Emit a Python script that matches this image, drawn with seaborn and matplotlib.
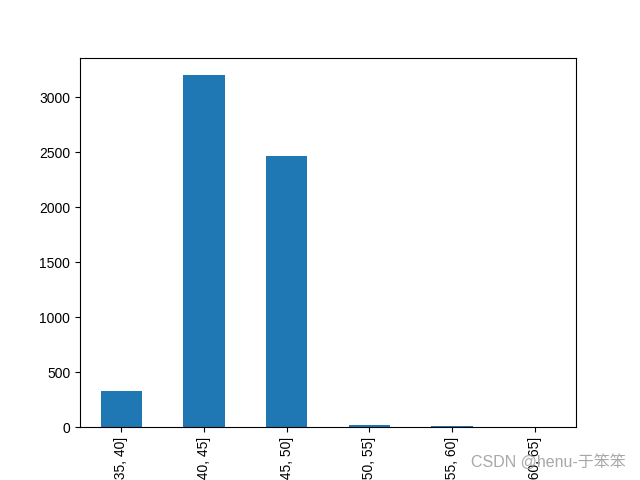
import matplotlib
matplotlib.use('Agg')
import matplotlib.pyplot as plt
import seaborn as sns
import pandas as pd

plt.rcParams['font.family'] = ['Liberation Sans', 'Noto Sans CJK SC', 'DejaVu Sans']
plt.rcParams['axes.unicode_minus'] = False

# age bins and counts
bins = ['(35, 40]', '(40, 45]', '(45, 50]', '(50, 55]', '(55, 60]', '(60, 65]']
counts = [328, 3200, 2462, 20, 10, 2]

df = pd.DataFrame({'bin': bins, 'count': counts})

fig, ax = plt.subplots(figsize=(6.4, 4.8), dpi=100)
sns.barplot(data=df, x='bin', y='count', color='#1f77b4', saturation=1,
            width=0.5, ax=ax)
ax.set_xlim(-0.5, len(bins) - 0.5)
ax.set_xlabel('')
ax.set_ylabel('')
ax.tick_params(axis='x', labelrotation=90)

# watermark
fig.text(0.977, 0.038, 'CSDN @henu-于笨笨', ha='right', va='center',
         fontsize=11.5, color='#a8a8a8',
         family=['Liberation Sans', 'Noto Sans CJK SC'])

fig.savefig('out.png')
